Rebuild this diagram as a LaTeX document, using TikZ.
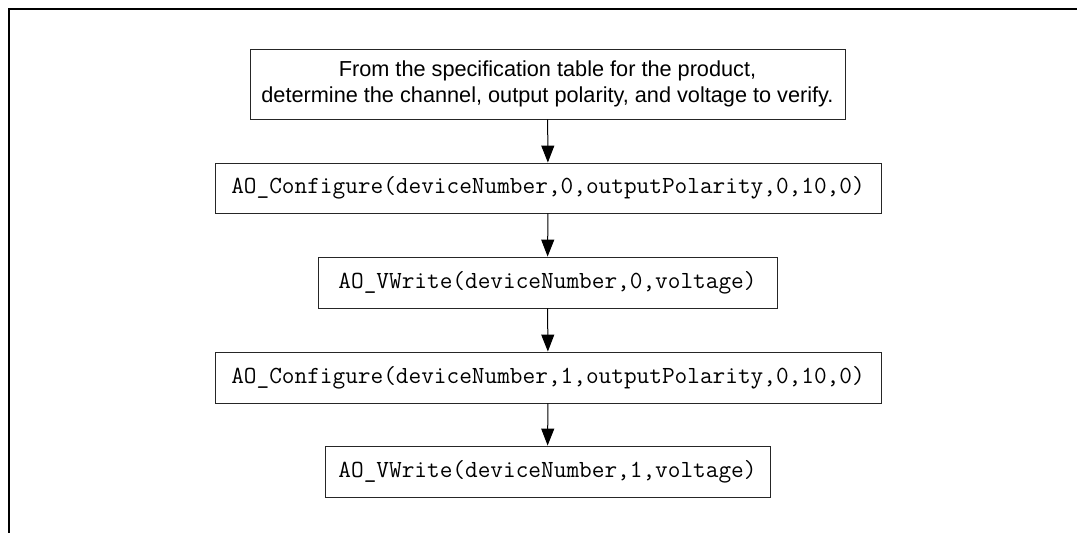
\documentclass[tikz,border=0pt]{standalone}
\usepackage{fontspec}
\setmainfont{Liberation Sans}
\usetikzlibrary{arrows.meta}
\begin{document}
\begin{tikzpicture}[x=1pt,y=-1pt,
  stepbox/.style={draw=black!85,line width=0.9pt,inner sep=0pt,minimum height=51pt},
  codetext/.style={font=\fontsize{24.6}{26}\selectfont\ttfamily},
  flow/.style={line width=1pt,-{Triangle[length=17pt,width=13pt]}}]
\useasboundingbox (0,0) rectangle (1077,533);
\draw[line width=2.2pt] (9,533) -- (9,9) -- (1077,9);
\node[stepbox,minimum width=595pt,minimum height=70pt,align=center,
  font=\fontsize{21.7}{26}\selectfont] (s1) at (547.5,84)
  {From the specification table for the product,\\determine the channel, output polarity, and voltage to verify.};
\node[stepbox,codetext,minimum width=666pt,minimum height=50pt] (s2) at (548,188)
  {AO\_Configure(deviceNumber,0,outputPolarity,0,10,0)};
\node[stepbox,codetext,minimum width=459pt] (s3) at (547.5,282.5)
  {AO\_VWrite(deviceNumber,0,voltage)};
\node[stepbox,codetext,minimum width=666pt] (s4) at (548,377.5)
  {AO\_Configure(deviceNumber,1,outputPolarity,0,10,0)};
\node[stepbox,codetext,minimum width=445pt] (s5) at (547.5,471.5)
  {AO\_VWrite(deviceNumber,1,voltage)};
\draw[flow] (s1) -- (s2);
\draw[flow] (s2) -- (s3);
\draw[flow] (s3) -- (s4);
\draw[flow] (s4) -- (s5);
\end{tikzpicture}
\end{document}
